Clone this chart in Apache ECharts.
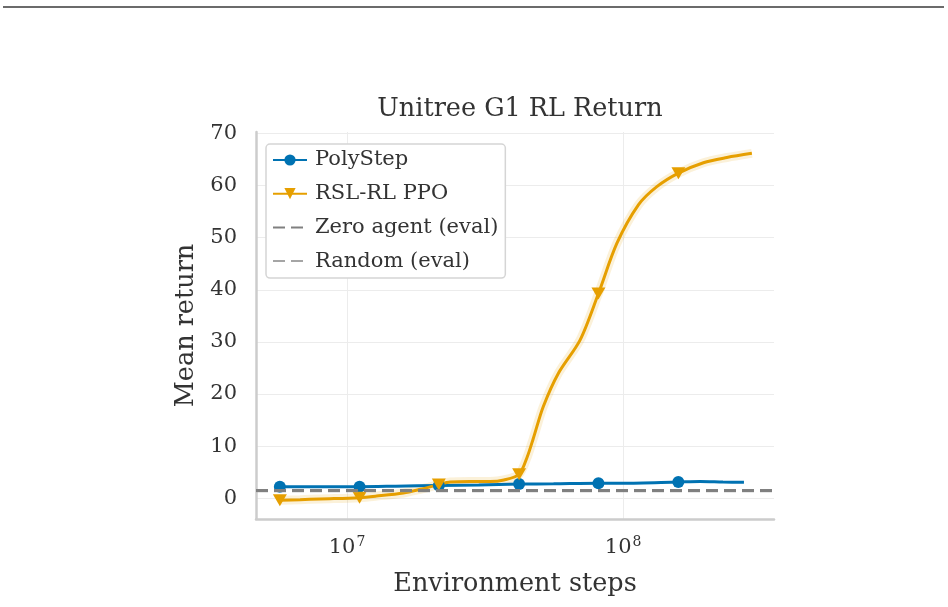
<!DOCTYPE html>
<html lang="en">
<head>
    <meta charset="UTF-8">
    <title>Unitree G1 RL Return</title>
    <script src="https://cdn.jsdelivr.net/npm/echarts@6/dist/echarts.min.js"></script>
    <style>
        html, body { margin: 0; padding: 0; background: #fff; }
    </style>
</head>
<body>
    <div id="main" style="width: 948px; height: 607px;"></div>
    <script>
        // environment steps / mean return
        var polyStepSteps = [5.71e6, 1.11e7, 1.5e7, 2.15e7, 3.0e7, 4.2e7, 5.6e7, 8.14e7, 1.0e8, 1.585e8, 1.9e8, 2.3e8, 2.74e8];
        var polyStepReturn = [2.2, 2.2, 2.3, 2.45, 2.55, 2.7, 2.75, 2.85, 2.85, 3.1, 3.2, 3.1, 3.05];
        var polyStepMarkers = [0, 1, 3, 5, 7, 9];

        var ppoSteps = [5.71e6, 6.76e6, 7.98e6, 1.11e7, 1.28e7, 1.6e7, 1.84e7, 2.15e7, 2.36e7, 2.79e7, 3.3e7, 3.7e7, 4.2e7,
            4.5e7, 4.73e7, 5.14e7, 5.83e7, 6.99e7, 8.14e7, 9.49e7, 1.136e8, 1.325e8, 1.586e8, 1.954e8, 2.376e8, 2.927e8];
        var ppoReturn = [-0.4, -0.3, -0.15, 0.1, 0.4, 1.0, 1.7, 2.6, 3.1, 3.2, 3.2, 3.5, 4.6,
            8.0, 11.5, 17.6, 24.0, 30.4, 39.3, 48.9, 56.3, 59.8, 62.4, 64.4, 65.4, 66.2];
        var ppoMarkers = [0, 3, 7, 12, 18, 22];

        var zeroAgentReturn = 1.45;
        var randomReturn = 1.4;

        var xMin = 4.68e6, xMax = 3.52e8;
        var yMin = -4, yMax = 70.3;

        var serif = 'DejaVu Serif';
        var blue = '#0072b2';
        var orange = '#e69f00';

        function withMarkers(xs, ys, marks) {
            return xs.map(function (x, i) {
                var item = { value: [x, ys[i]] };
                if (marks.indexOf(i) < 0) item.symbol = 'none';
                return item;
            });
        }

        function pairs(xs, ys) {
            return xs.map(function (x, i) { return [x, ys[i]]; });
        }

        var myChart = echarts.init(document.getElementById('main'));

        var option = {
            backgroundColor: '#fff',
            animation: false,
            title: {
                text: 'Unitree G1 RL Return',
                left: 515,
                textAlign: 'center',
                top: 91,
                textStyle: { fontFamily: serif, fontSize: 25.5, fontWeight: 'normal', color: '#333' }
            },
            graphic: [{
                type: 'line',
                shape: { x1: 3, y1: 7, x2: 944, y2: 7 },
                style: { stroke: '#3a3a3a', lineWidth: 1.5 }
            }],
            legend: {
                orient: 'vertical',
                left: 266,
                top: 144,
                padding: [4, 7, 5, 6],
                itemWidth: 34,
                itemHeight: 14,
                itemGap: 9.7,
                backgroundColor: '#fff',
                borderColor: '#d5d5d5',
                borderWidth: 1.5,
                borderRadius: 4,
                textStyle: { fontFamily: serif, fontSize: 21, color: '#333', lineHeight: 24, padding: [0, 0, 0, 3] },
                data: [
                    'PolyStep',
                    'RSL-RL PPO',
                    { name: 'Zero agent (eval)', itemStyle: { opacity: 0 } },
                    { name: 'Random (eval)', itemStyle: { opacity: 0 } }
                ]
            },
            grid: { left: 256, right: 174, top: 132, bottom: 88 },
            xAxis: {
                type: 'log',
                logBase: 10,
                min: xMin,
                max: xMax,
                name: 'Environment steps',
                nameLocation: 'middle',
                nameGap: 52,
                nameTextStyle: { fontFamily: serif, fontSize: 25.5, color: '#333' },
                axisLine: { show: true, onZero: false, lineStyle: { color: '#cccccc', width: 2.5 } },
                axisTick: { show: false },
                minorTick: { show: false },
                axisLabel: {
                    showMinLabel: false,
                    showMaxLabel: false,
                    margin: 16,
                    fontFamily: serif,
                    fontSize: 21,
                    color: '#333',
                    formatter: function (v) {
                        var e = Math.round(Math.log(v) / Math.LN10);
                        return '{b|10}{s|' + e + '}';
                    },
                    rich: {
                        b: { fontFamily: serif, fontSize: 21, color: '#333' },
                        s: { fontFamily: serif, fontSize: 14, color: '#333', padding: [0, 0, 11, 1] }
                    }
                },
                splitLine: { show: true, showMinLine: false, showMaxLine: false, lineStyle: { color: '#ececec', width: 1 } }
            },
            yAxis: {
                type: 'value',
                min: yMin,
                max: yMax,
                splitNumber: 7,
                name: 'Mean return',
                nameLocation: 'middle',
                nameGap: 57,
                nameTextStyle: { fontFamily: serif, fontSize: 25.5, color: '#333' },
                axisLine: { show: true, lineStyle: { color: '#cccccc', width: 2.5 } },
                axisTick: { show: false },
                axisLabel: {
                    showMinLabel: false,
                    showMaxLabel: false,
                    margin: 19,
                    fontFamily: serif,
                    fontSize: 21,
                    color: '#333'
                },
                splitLine: { show: true, showMinLine: false, showMaxLine: false, lineStyle: { color: '#ececec', width: 1 } }
            },
            series: [
                {
                    name: 'ppo band',
                    type: 'line',
                    smooth: 0.3,
                    symbol: 'none',
                    silent: true,
                    z: 1,
                    lineStyle: { color: orange, width: 9, opacity: 0.15 },
                    data: pairs(ppoSteps, ppoReturn)
                },
                {
                    name: 'PolyStep',
                    type: 'line',
                    smooth: 0.3,
                    symbol: 'circle',
                    symbolSize: 12,
                    showAllSymbol: true,
                    z: 3,
                    lineStyle: { color: blue, width: 3 },
                    itemStyle: { color: blue },
                    data: withMarkers(polyStepSteps, polyStepReturn, polyStepMarkers)
                },
                {
                    name: 'RSL-RL PPO',
                    type: 'line',
                    smooth: 0.3,
                    symbol: 'path://M0,0 L10,0 L5,9 Z',
                    symbolSize: [14, 12],
                    showAllSymbol: true,
                    z: 3,
                    lineStyle: { color: orange, width: 3 },
                    itemStyle: { color: orange },
                    data: withMarkers(ppoSteps, ppoReturn, ppoMarkers)
                },
                {
                    name: 'Random (eval)',
                    type: 'line',
                    symbol: 'none',
                    z: 5,
                    lineStyle: { color: '#a5a5a5', width: 3, type: [12, 6] },
                    itemStyle: { color: '#a5a5a5', opacity: 0 },
                    data: [[xMin, randomReturn], [xMax, randomReturn]]
                },
                {
                    name: 'Zero agent (eval)',
                    type: 'line',
                    symbol: 'none',
                    z: 5,
                    lineStyle: { color: '#808080', width: 3, type: [12, 6] },
                    itemStyle: { color: '#808080', opacity: 0 },
                    data: [[xMin, zeroAgentReturn], [xMax, zeroAgentReturn]]
                }
            ]
        };

        myChart.setOption(option);
    </script>
</body>
</html>
